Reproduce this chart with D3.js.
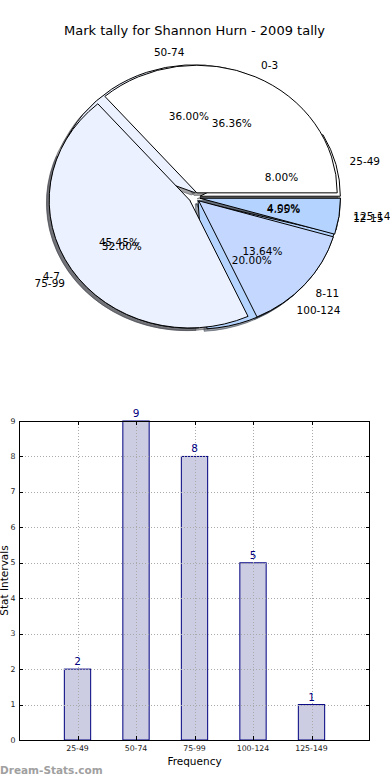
<!DOCTYPE html>
<html><head><meta charset="utf-8">
<script src="https://cdn.jsdelivr.net/npm/d3@7"></script>
<style>body{margin:0;background:#fff} svg{display:block} text{font-family:"DejaVu Sans",sans-serif}</style>
</head><body>
<svg id="c" width="390" height="780"></svg>
<script>
const titleText = "Mark tally for Shannon Hurn - 2009 tally";
const pieALabels = ["0-3","4-7","8-11","12-15"];
const pieAValues = [8,10,3,1];
const pieBLabels = ["25-49","50-74","75-99","100-124","125-149"];
const pieBValues = [2,9,8,5,1];
const sliceColors = ["#ffffff","#ebf1ff","#c4d8ff","#b4d4ff","#a9ccff"];
const barCategories = ["25-49","50-74","75-99","100-124","125-149"];
const barValues = [2,9,8,5,1];
const yTicks = [0,1,2,3,4,5,6,7,8,9];

const svg = d3.select("#c");
svg.append("rect").attr("width",390).attr("height",780).attr("fill","#fff");

// ---------- Pie section ----------
const px = d3.scaleLinear().domain([-1.25,1.25]).range([19,370]);
const py = d3.scaleLinear().domain([-1.25,1.25]).range([357,38]);
const rx = px(1)-px(0), ry = py(0)-py(1);
const explode = 0.04;
const pie = d3.pie().sort(null).value(d=>d.v).startAngle(Math.PI/2).endAngle(Math.PI/2 - 2*Math.PI);
const arcU = d3.arc().innerRadius(0).outerRadius(1);

svg.append("text").attr("x",px(0)).attr("y",35).attr("text-anchor","middle")
  .attr("font-size","13px").attr("fill","#000").text(titleText);

const mk = (labels, values) => pie(values.map((v,i)=>({v, label:labels[i], color:sliceColors[i]})));
const arcsA = mk(pieALabels, pieAValues);
const arcsB = mk(pieBLabels, pieBValues);
const totA = d3.sum(pieAValues), totB = d3.sum(pieBValues);

const gPie = svg.append("g").attr("transform",`translate(${px(0)},${py(0)}) scale(${rx},${ry})`);
const mid = d => (d.startAngle+d.endAngle)/2;
const off = d => [explode*Math.sin(mid(d)), -explode*Math.cos(mid(d))];

function shadows(arcs){
  gPie.append("g").selectAll("path").data(arcs).join("path")
    .attr("d", arcU)
    .attr("transform", d=>{const o=off(d); return `translate(${o[0]-0.02},${o[1]+0.02})`;})
    .attr("fill", d=>{const c=d3.rgb(d.data.color); return d3.rgb(c.r*0.3,c.g*0.3,c.b*0.3).toString();})
    .attr("fill-opacity",0.5)
    .attr("stroke", d=>{const c=d3.rgb(d.data.color); return d3.rgb(c.r*0.3,c.g*0.3,c.b*0.3).toString();})
    .attr("stroke-opacity",0.5)
    .attr("stroke-width",1).attr("vector-effect","non-scaling-stroke");
}
function wedges(arcs){
  gPie.append("g").selectAll("path").data(arcs).join("path")
    .attr("d", arcU)
    .attr("transform", d=>{const o=off(d); return `translate(${o[0]},${o[1]})`;})
    .attr("fill", d=>d.data.color)
    .attr("stroke","#000").attr("stroke-width",1).attr("vector-effect","non-scaling-stroke")
    .attr("stroke-linejoin","miter");
}
function labels(arcs, tot){
  const g = svg.append("g").attr("font-size","10.5px").attr("fill","#000");
  arcs.forEach(d=>{
    const a = mid(d), s = Math.sin(a), c = Math.cos(a);
    const xt = (explode+1.1)*s, yt = (explode+1.1)*c;
    g.append("text").attr("x",px(xt)).attr("y",py(yt))
      .attr("text-anchor", xt>0 ? "start":"end").attr("dominant-baseline","central")
      .text(d.data.label);
    const xp = (explode+0.6)*s, yp = (explode+0.6)*c;
    g.append("text").attr("x",px(xp)).attr("y",py(yp))
      .attr("text-anchor","middle").attr("dominant-baseline","central")
      .text((d.data.v/tot*100).toFixed(2)+"%");
  });
}
shadows(arcsB); shadows(arcsA);
wedges(arcsB); wedges(arcsA);
labels(arcsB, totB); labels(arcsA, totA);

// ---------- Bar section ----------
const L=19, R=370, T=421, B=740;
const bx = d3.scaleLinear().domain([0,6]).range([L,R]);
const by = d3.scaleLinear().domain([0,9]).range([B,T]);
const barW = 0.45;
const gb = svg.append("g");

gb.selectAll("rect.bar").data(barValues).join("rect").attr("class","bar")
  .attr("x",(v,i)=>bx(i+1-barW/2)).attr("width",(v,i)=>bx(i+1+barW/2)-bx(i+1-barW/2))
  .attr("y",v=>by(v)).attr("height",v=>by(0)-by(v))
  .attr("fill","#cccce2").attr("stroke","#000080").attr("stroke-width",1);

// grid
gb.selectAll("line.gy").data(yTicks).join("line").attr("class","gy")
  .attr("x1",L).attr("x2",R).attr("y1",d=>Math.round(by(d))+0.5).attr("y2",d=>Math.round(by(d))+0.5)
  .attr("stroke","#aaa").attr("stroke-width",1).attr("stroke-dasharray","1,2");
gb.selectAll("line.gx").data(barCategories).join("line").attr("class","gx")
  .attr("x1",(d,i)=>Math.round(bx(i+1))+0.5).attr("x2",(d,i)=>Math.round(bx(i+1))+0.5)
  .attr("y1",T).attr("y2",B)
  .attr("stroke","#aaa").attr("stroke-width",1).attr("stroke-dasharray","1,2");

// frame
gb.append("rect").attr("x",L+0.5).attr("y",T+0.5).attr("width",R-L-1).attr("height",B-T)
  .attr("fill","none").attr("stroke","#000").attr("stroke-width",1);

// ticks
const tk = 4;
yTicks.forEach(t=>{
  const y = Math.round(by(t))+0.5;
  gb.append("line").attr("x1",L).attr("x2",L+tk).attr("y1",y).attr("y2",y).attr("stroke","#000");
  gb.append("line").attr("x1",R).attr("x2",R-tk).attr("y1",y).attr("y2",y).attr("stroke","#000");
});
barCategories.forEach((c,i)=>{
  const x = Math.round(bx(i+1))+0.5;
  gb.append("line").attr("x1",x).attr("x2",x).attr("y1",B).attr("y2",B-tk).attr("stroke","#000");
  gb.append("line").attr("x1",x).attr("x2",x).attr("y1",T).attr("y2",T+tk).attr("stroke","#000");
});

// tick labels
gb.append("g").attr("font-size","7.8px").attr("fill","#222")
  .selectAll("text").data(yTicks).join("text")
  .attr("x",15.5).attr("y",d=>by(d)).attr("text-anchor","end").attr("dominant-baseline","central")
  .text(d=>d);
gb.append("g").attr("font-size","7.8px").attr("fill","#222")
  .selectAll("text").data(barCategories).join("text")
  .attr("x",(d,i)=>bx(i+1)).attr("y",750.5).attr("text-anchor","middle")
  .text(d=>d);

// value labels
gb.append("g").attr("font-size","10.5px").attr("fill","#000080")
  .selectAll("text").data(barValues).join("text")
  .attr("x",(v,i)=>bx(i+1)).attr("y",v=>by(v)-4).attr("text-anchor","middle")
  .text(v=>v);

// axis labels
svg.append("text").attr("x",bx(3)).attr("y",765).attr("text-anchor","middle")
  .attr("font-size","10.5px").attr("fill","#000").text("Frequency");
svg.append("text").attr("transform",`translate(8,${(T+B)/2}) rotate(-90)`).attr("text-anchor","middle")
  .attr("font-size","10.5px").attr("fill","#000").text("Stat Intervals");

// watermark
svg.append("text").attr("x",0).attr("y",774).attr("font-size","10.5px").attr("font-weight","bold")
  .attr("fill","#a0a0a0").text("Dream-Stats.com");
</script>
</body></html>
